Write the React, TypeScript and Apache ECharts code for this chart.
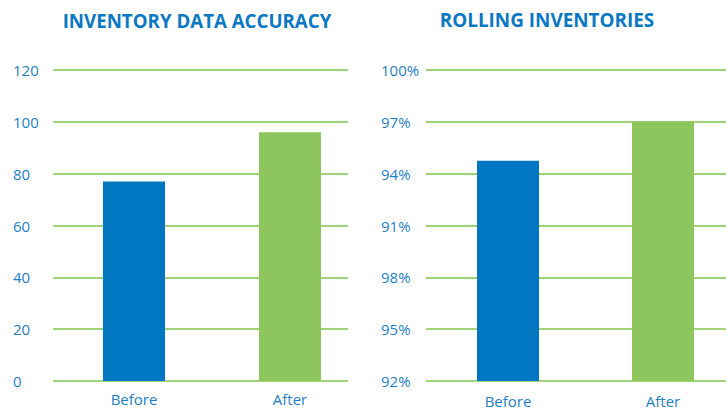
import React, { useEffect, useRef } from "react";
import * as echarts from "echarts";

const categories = ["Before", "After"];
const accuracyValues = [77, 96];
const accuracyTicks = { min: 0, max: 120, interval: 20 };
// rolling inventories: values read against the upper (91%..100%) part of the axis
const rollingValues = [94.75, 97];
const rollingTickLabels = ["92%", "95%", "98%", "91%", "94%", "97%", "100%"];
const titles = ["INVENTORY DATA ACCURACY", "ROLLING INVENTORIES"];

const BLUE = "#0077c0";
const GREEN = "#8cc65c";
const GRIDC = "#a2d27a";
const LABELC = "#1f7fc4";
const TITLEC = "#0a78c2";
const FONT = "'Open Sans', Lato, sans-serif";

// position of a percent on the step axis (label index 3 = 91%, 3 pts per step)
const toStep = (p: number) => 3 + (p - 91) / 3;

export default function App() {
  const ref = useRef<HTMLDivElement>(null);
  useEffect(() => {
    if (!ref.current) return;
    const chart = echarts.init(ref.current, undefined, { renderer: "svg" });
    const top = 70;
    const bottom = 31;
    const labelAxis = (gridIndex: number, min: number, max: number, interval: number, margin: number, fmt?: (v: number) => string) => ({
      type: "value",
      gridIndex,
      min,
      max,
      interval,
      axisLine: { show: false },
      axisTick: { show: false },
      axisLabel: {
        align: "left",
        margin,
        color: LABELC,
        fontSize: 15,
        fontFamily: FONT,
        formatter: fmt,
      },
      splitLine: { show: true, lineStyle: { color: GRIDC, width: 2 } },
    });
    const catAxis = (gridIndex: number, margin: number) => ({
      type: "category",
      gridIndex,
      data: categories,
      axisLine: { show: false },
      axisTick: { show: false },
      axisLabel: { color: LABELC, fontSize: 15, fontFamily: FONT, margin },
    });
    const colored = (vals: number[]) =>
      vals.map((v, i) => ({ value: v, itemStyle: { color: i === 0 ? BLUE : GREEN } }));
    chart.setOption({
      animation: false,
      grid: [
        { left: 53, right: 378, top, bottom, containLabel: false, outerBoundsMode: "none" },
        { left: 56, right: 358, top, bottom, containLabel: false, outerBoundsMode: "none" },
        { left: 426, right: 0, top, bottom, containLabel: false, outerBoundsMode: "none" },
        { left: 430.5, right: -14.5, top, bottom, containLabel: false, outerBoundsMode: "none" },
      ],
      xAxis: [
        { type: "value", gridIndex: 0, show: false },
        catAxis(1, 10),
        { type: "value", gridIndex: 2, show: false },
        catAxis(3, 12),
      ],
      yAxis: [
        labelAxis(0, accuracyTicks.min, accuracyTicks.max, accuracyTicks.interval, 40),
        { type: "value", gridIndex: 1, min: accuracyTicks.min, max: accuracyTicks.max, show: false },
        labelAxis(2, 0, rollingTickLabels.length - 1, 1, 45, (v: number) => rollingTickLabels[v] ?? ""),
        { type: "value", gridIndex: 3, min: 0, max: rollingTickLabels.length - 1, show: false },
      ],
      series: [
        { type: "bar", xAxisIndex: 1, yAxisIndex: 1, barWidth: 62, data: colored(accuracyValues) },
        { type: "bar", xAxisIndex: 3, yAxisIndex: 3, barWidth: 62, data: colored(rollingValues.map(toStep)) },
      ],
      graphic: [
        {
          type: "text",
          x: 197,
          y: 20,
          style: { text: titles[0], textAlign: "center", textVerticalAlign: "middle", fill: TITLEC, font: `bold 18.7px ${FONT}` },
        },
        {
          type: "text",
          x: 547,
          y: 20,
          style: { text: titles[1], textAlign: "center", textVerticalAlign: "middle", fill: TITLEC, font: `bold 18.9px ${FONT}` },
        },
      ],
    });
    return () => chart.dispose();
  }, []);
  return (
    <div
      ref={ref}
      style={{ position: "fixed", left: 0, top: 0, width: 726, height: 412, background: "#fff" }}
    />
  );
}
